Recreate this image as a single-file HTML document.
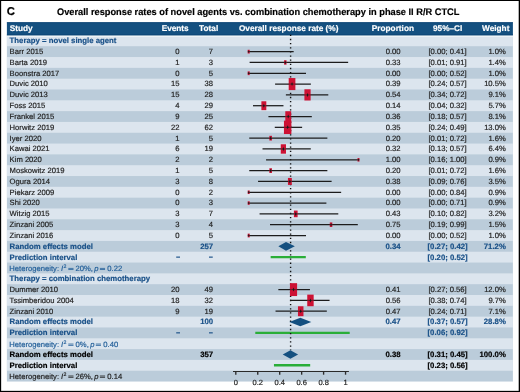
<!DOCTYPE html>
<html><head><meta charset="utf-8"><style>
html,body{margin:0;padding:0;background:#fff;}
body{width:520px;height:392px;overflow:hidden;}
svg{display:block;font-family:"Liberation Sans",sans-serif;text-rendering:geometricPrecision;will-change:transform;}
</style></head><body>
<svg width="520" height="392" viewBox="0 0 520 392">
<rect x="0" y="0" width="520" height="392" fill="#fff"/>
<rect x="6.9" y="22.3" width="506.0" height="13.099999999999998" fill="#145080"/>
<rect x="6.9" y="35.40" width="506.0" height="346.144" fill="#bbccda"/>
<rect x="6.9" y="35.400" width="506.0" height="10.817" fill="#dce5ee"/>
<rect x="6.9" y="57.034" width="506.0" height="10.817" fill="#dce5ee"/>
<rect x="6.9" y="78.668" width="506.0" height="10.817" fill="#dce5ee"/>
<rect x="6.9" y="100.302" width="506.0" height="10.817" fill="#dce5ee"/>
<rect x="6.9" y="121.936" width="506.0" height="10.817" fill="#dce5ee"/>
<rect x="6.9" y="143.570" width="506.0" height="10.817" fill="#dce5ee"/>
<rect x="6.9" y="165.204" width="506.0" height="10.817" fill="#dce5ee"/>
<rect x="6.9" y="186.838" width="506.0" height="10.817" fill="#dce5ee"/>
<rect x="6.9" y="208.472" width="506.0" height="10.817" fill="#dce5ee"/>
<rect x="6.9" y="230.106" width="506.0" height="10.817" fill="#dce5ee"/>
<rect x="6.9" y="251.740" width="506.0" height="10.817" fill="#dce5ee"/>
<rect x="6.9" y="273.374" width="506.0" height="10.817" fill="#dce5ee"/>
<rect x="6.9" y="295.008" width="506.0" height="10.817" fill="#dce5ee"/>
<rect x="6.9" y="316.642" width="506.0" height="10.817" fill="#dce5ee"/>
<rect x="6.9" y="338.276" width="506.0" height="10.817" fill="#dce5ee"/>
<rect x="6.9" y="359.910" width="506.0" height="10.817" fill="#dce5ee"/>
<rect x="6.9" y="35.4" width="506.0" height="1.6" fill="#eef3f7"/>
<rect x="6.9" y="34.4" width="506.0" height="1.0" fill="#0c4474"/>
<rect x="6.9" y="22.3" width="506.0" height="0.9" fill="#0f4677"/>
<text x="9.76" y="31.40" font-weight="bold" fill="#fff" stroke="#fff" stroke-width="0.18" font-size="8.25">Study</text>
<text x="161.67" y="31.40" font-weight="bold" fill="#fff" stroke="#fff" stroke-width="0.18" font-size="8.25">Events</text>
<text x="199.09" y="31.40" font-weight="bold" fill="#fff" stroke="#fff" stroke-width="0.18" font-size="8.25">Total</text>
<text x="238.94" y="31.40" font-weight="bold" fill="#fff" stroke="#fff" stroke-width="0.18" font-size="8.25">Overall response rate (%)</text>
<text x="371.8" y="31.40" font-weight="bold" fill="#fff" stroke="#fff" stroke-width="0.18" font-size="8.25">Proportion</text>
<text x="432.96" y="31.40" font-weight="bold" fill="#fff" stroke="#fff" stroke-width="0.18" font-size="8.25">95%–CI</text>
<text x="482.05" y="31.40" font-weight="bold" fill="#fff" stroke="#fff" stroke-width="0.18" font-size="8.25">Weight</text>
<text x="6.75" y="14.95" font-weight="bold" fill="#000" stroke="#000" stroke-width="0.18" font-size="11.3">C</text>
<text x="57.0" y="14.90" font-weight="bold" fill="#000" stroke="#000" stroke-width="0.18" font-size="9.5" textLength="402.4" lengthAdjust="spacingAndGlyphs">Overall response rates of novel agents vs. combination chemotherapy in phase II R/R CTCL</text>
<line x1="270.66" y1="257.15" x2="305.80" y2="257.15" stroke="#2aae38" stroke-width="2.4"/>
<line x1="255.29" y1="332.87" x2="349.72" y2="332.87" stroke="#2aae38" stroke-width="2.4"/>
<line x1="273.95" y1="365.32" x2="310.19" y2="365.32" stroke="#2aae38" stroke-width="2.4"/>
<line x1="290.6" y1="34.71" x2="290.6" y2="350.2" stroke="#111" stroke-width="1.4" stroke-dasharray="1.3 2.843"/>
<line x1="248.70" y1="51.63" x2="293.68" y2="51.63" stroke="#1c1c1c" stroke-width="1.25"/>
<line x1="249.62" y1="62.44" x2="348.15" y2="62.44" stroke="#1c1c1c" stroke-width="1.25"/>
<line x1="248.70" y1="73.26" x2="306.00" y2="73.26" stroke="#1c1c1c" stroke-width="1.25"/>
<line x1="275.09" y1="84.08" x2="310.86" y2="84.08" stroke="#1c1c1c" stroke-width="1.25"/>
<line x1="285.89" y1="94.89" x2="328.29" y2="94.89" stroke="#1c1c1c" stroke-width="1.25"/>
<line x1="252.97" y1="105.71" x2="283.47" y2="105.71" stroke="#1c1c1c" stroke-width="1.25"/>
<line x1="268.43" y1="116.53" x2="311.81" y2="116.53" stroke="#1c1c1c" stroke-width="1.25"/>
<line x1="274.77" y1="127.34" x2="302.13" y2="127.34" stroke="#1c1c1c" stroke-width="1.25"/>
<line x1="249.25" y1="138.16" x2="327.36" y2="138.16" stroke="#1c1c1c" stroke-width="1.25"/>
<line x1="262.51" y1="148.98" x2="310.79" y2="148.98" stroke="#1c1c1c" stroke-width="1.25"/>
<line x1="266.06" y1="159.80" x2="358.50" y2="159.80" stroke="#1c1c1c" stroke-width="1.25"/>
<line x1="249.25" y1="170.61" x2="327.36" y2="170.61" stroke="#1c1c1c" stroke-width="1.25"/>
<line x1="258.06" y1="181.43" x2="331.61" y2="181.43" stroke="#1c1c1c" stroke-width="1.25"/>
<line x1="248.70" y1="192.25" x2="341.14" y2="192.25" stroke="#1c1c1c" stroke-width="1.25"/>
<line x1="248.70" y1="203.06" x2="326.39" y2="203.06" stroke="#1c1c1c" stroke-width="1.25"/>
<line x1="259.57" y1="213.88" x2="338.29" y2="213.88" stroke="#1c1c1c" stroke-width="1.25"/>
<line x1="270.01" y1="224.70" x2="357.81" y2="224.70" stroke="#1c1c1c" stroke-width="1.25"/>
<line x1="248.70" y1="235.51" x2="306.00" y2="235.51" stroke="#1c1c1c" stroke-width="1.25"/>
<line x1="278.34" y1="289.60" x2="309.95" y2="289.60" stroke="#1c1c1c" stroke-width="1.25"/>
<line x1="290.05" y1="300.42" x2="329.55" y2="300.42" stroke="#1c1c1c" stroke-width="1.25"/>
<line x1="275.54" y1="311.23" x2="326.81" y2="311.23" stroke="#1c1c1c" stroke-width="1.25"/>
<rect x="247.67" y="49.77" width="2.06" height="3.72" fill="#cd1234"/>
<rect x="284.08" y="60.24" width="2.44" height="4.40" fill="#cd1234"/>
<rect x="247.67" y="71.40" width="2.06" height="3.72" fill="#cd1234"/>
<rect x="288.70" y="78.05" width="6.68" height="12.05" fill="#cd1234"/>
<rect x="304.41" y="89.28" width="6.21" height="11.22" fill="#cd1234"/>
<rect x="261.39" y="101.27" width="4.92" height="8.88" fill="#cd1234"/>
<rect x="285.30" y="111.23" width="5.86" height="10.59" fill="#cd1234"/>
<rect x="283.95" y="120.64" width="7.43" height="13.41" fill="#cd1234"/>
<rect x="269.36" y="135.81" width="2.61" height="4.71" fill="#cd1234"/>
<rect x="280.77" y="144.27" width="5.21" height="9.41" fill="#cd1234"/>
<rect x="357.52" y="158.03" width="1.95" height="3.53" fill="#cd1234"/>
<rect x="269.36" y="168.26" width="2.61" height="4.71" fill="#cd1234"/>
<rect x="287.95" y="177.95" width="3.85" height="6.96" fill="#cd1234"/>
<rect x="247.72" y="190.48" width="1.95" height="3.53" fill="#cd1234"/>
<rect x="247.72" y="201.30" width="1.95" height="3.53" fill="#cd1234"/>
<rect x="293.91" y="210.55" width="3.69" height="6.65" fill="#cd1234"/>
<rect x="329.79" y="222.42" width="2.52" height="4.56" fill="#cd1234"/>
<rect x="247.67" y="233.65" width="2.06" height="3.72" fill="#cd1234"/>
<rect x="289.95" y="283.16" width="7.14" height="12.89" fill="#cd1234"/>
<rect x="307.25" y="294.62" width="6.42" height="11.59" fill="#cd1234"/>
<rect x="297.97" y="306.28" width="5.49" height="9.91" fill="#cd1234"/>
<line x1="247.67" y1="51.63" x2="249.73" y2="51.63" stroke="#222" stroke-opacity="0.55" stroke-width="1.1"/>
<path d="M248.70 50.14L249.32 51.63L248.70 53.11L248.08 51.63Z" fill="#1a1a1a"/>
<line x1="284.08" y1="62.44" x2="286.52" y2="62.44" stroke="#222" stroke-opacity="0.55" stroke-width="1.1"/>
<path d="M285.30 60.68L286.03 62.44L285.30 64.20L284.57 62.44Z" fill="#1a1a1a"/>
<line x1="247.67" y1="73.26" x2="249.73" y2="73.26" stroke="#222" stroke-opacity="0.55" stroke-width="1.1"/>
<path d="M248.70 71.77L249.32 73.26L248.70 74.75L248.08 73.26Z" fill="#1a1a1a"/>
<line x1="288.70" y1="84.08" x2="295.38" y2="84.08" stroke="#222" stroke-opacity="0.55" stroke-width="1.1"/>
<path d="M292.04 82.08L292.89 84.08L292.04 86.08L291.19 84.08Z" fill="#1a1a1a"/>
<line x1="304.41" y1="94.89" x2="310.63" y2="94.89" stroke="#222" stroke-opacity="0.55" stroke-width="1.1"/>
<path d="M307.52 92.89L308.37 94.89L307.52 96.89L306.67 94.89Z" fill="#1a1a1a"/>
<line x1="261.39" y1="105.71" x2="266.30" y2="105.71" stroke="#222" stroke-opacity="0.55" stroke-width="1.1"/>
<path d="M263.84 103.71L264.69 105.71L263.84 107.71L262.99 105.71Z" fill="#1a1a1a"/>
<line x1="285.30" y1="116.53" x2="291.16" y2="116.53" stroke="#222" stroke-opacity="0.55" stroke-width="1.1"/>
<path d="M288.23 114.53L289.08 116.53L288.23 118.53L287.38 116.53Z" fill="#1a1a1a"/>
<line x1="283.95" y1="127.34" x2="291.38" y2="127.34" stroke="#222" stroke-opacity="0.55" stroke-width="1.1"/>
<path d="M287.66 125.34L288.51 127.34L287.66 129.34L286.81 127.34Z" fill="#1a1a1a"/>
<line x1="269.36" y1="138.16" x2="271.96" y2="138.16" stroke="#222" stroke-opacity="0.55" stroke-width="1.1"/>
<path d="M270.66 136.28L271.44 138.16L270.66 140.04L269.88 138.16Z" fill="#1a1a1a"/>
<line x1="280.77" y1="148.98" x2="285.98" y2="148.98" stroke="#222" stroke-opacity="0.55" stroke-width="1.1"/>
<path d="M283.37 146.98L284.22 148.98L283.37 150.98L282.52 148.98Z" fill="#1a1a1a"/>
<line x1="357.52" y1="159.80" x2="359.48" y2="159.80" stroke="#222" stroke-opacity="0.55" stroke-width="1.1"/>
<path d="M358.50 158.38L359.09 159.80L358.50 161.21L357.91 159.80Z" fill="#1a1a1a"/>
<line x1="269.36" y1="170.61" x2="271.96" y2="170.61" stroke="#222" stroke-opacity="0.55" stroke-width="1.1"/>
<path d="M270.66 168.73L271.44 170.61L270.66 172.49L269.88 170.61Z" fill="#1a1a1a"/>
<line x1="287.95" y1="181.43" x2="291.80" y2="181.43" stroke="#222" stroke-opacity="0.55" stroke-width="1.1"/>
<path d="M289.88 179.43L290.73 181.43L289.88 183.43L289.02 181.43Z" fill="#1a1a1a"/>
<line x1="247.72" y1="192.25" x2="249.68" y2="192.25" stroke="#222" stroke-opacity="0.55" stroke-width="1.1"/>
<path d="M248.70 190.83L249.29 192.25L248.70 193.66L248.11 192.25Z" fill="#1a1a1a"/>
<line x1="247.72" y1="203.06" x2="249.68" y2="203.06" stroke="#222" stroke-opacity="0.55" stroke-width="1.1"/>
<path d="M248.70 201.65L249.29 203.06L248.70 204.48L248.11 203.06Z" fill="#1a1a1a"/>
<line x1="293.91" y1="213.88" x2="297.60" y2="213.88" stroke="#222" stroke-opacity="0.55" stroke-width="1.1"/>
<path d="M295.76 211.88L296.61 213.88L295.76 215.88L294.91 213.88Z" fill="#1a1a1a"/>
<line x1="329.79" y1="224.70" x2="332.31" y2="224.70" stroke="#222" stroke-opacity="0.55" stroke-width="1.1"/>
<path d="M331.05 222.88L331.81 224.70L331.05 226.52L330.29 224.70Z" fill="#1a1a1a"/>
<line x1="247.67" y1="235.51" x2="249.73" y2="235.51" stroke="#222" stroke-opacity="0.55" stroke-width="1.1"/>
<path d="M248.70 234.03L249.32 235.51L248.70 237.00L248.08 235.51Z" fill="#1a1a1a"/>
<path d="M278.35 246.33L286.03 242.03L294.82 246.33L286.03 250.63Z" fill="#145080"/>
<line x1="289.95" y1="289.60" x2="297.08" y2="289.60" stroke="#222" stroke-opacity="0.55" stroke-width="1.1"/>
<path d="M293.52 287.60L294.37 289.60L293.52 291.60L292.67 289.60Z" fill="#1a1a1a"/>
<line x1="307.25" y1="300.42" x2="313.67" y2="300.42" stroke="#222" stroke-opacity="0.55" stroke-width="1.1"/>
<path d="M310.46 298.42L311.31 300.42L310.46 302.42L309.61 300.42Z" fill="#1a1a1a"/>
<line x1="297.97" y1="311.23" x2="303.46" y2="311.23" stroke="#222" stroke-opacity="0.55" stroke-width="1.1"/>
<path d="M300.71 309.23L301.56 311.23L300.71 313.23L299.86 311.23Z" fill="#1a1a1a"/>
<path d="M289.33 322.05L300.31 317.75L311.29 322.05L300.31 326.35Z" fill="#145080"/>
<path d="M282.74 354.50L290.42 350.20L298.11 354.50L290.42 358.80Z" fill="#145080"/>
<line x1="233" y1="371.5" x2="348.9" y2="371.5" stroke="#2a2a2a" stroke-width="1.2"/>
<line x1="235.80" y1="371.5" x2="235.80" y2="374.7" stroke="#2a2a2a" stroke-width="1.35"/>
<text x="235.8" y="385.40" text-anchor="middle" fill="#222" stroke="#222" stroke-width="0.18" font-size="7.5">0</text>
<line x1="257.75" y1="371.5" x2="257.75" y2="374.7" stroke="#2a2a2a" stroke-width="1.35"/>
<text x="257.75" y="385.40" text-anchor="middle" fill="#222" stroke="#222" stroke-width="0.18" font-size="7.5">0.2</text>
<line x1="279.70" y1="371.5" x2="279.70" y2="374.7" stroke="#2a2a2a" stroke-width="1.35"/>
<text x="279.7" y="385.40" text-anchor="middle" fill="#222" stroke="#222" stroke-width="0.18" font-size="7.5">0.4</text>
<line x1="301.65" y1="371.5" x2="301.65" y2="374.7" stroke="#2a2a2a" stroke-width="1.35"/>
<text x="301.65" y="385.40" text-anchor="middle" fill="#222" stroke="#222" stroke-width="0.18" font-size="7.5">0.6</text>
<line x1="323.60" y1="371.5" x2="323.60" y2="374.7" stroke="#2a2a2a" stroke-width="1.35"/>
<text x="323.6" y="385.40" text-anchor="middle" fill="#222" stroke="#222" stroke-width="0.18" font-size="7.5">0.8</text>
<line x1="345.55" y1="371.5" x2="345.55" y2="374.7" stroke="#2a2a2a" stroke-width="1.35"/>
<text x="345.55" y="385.40" text-anchor="middle" fill="#222" stroke="#222" stroke-width="0.18" font-size="7.5">1</text>
<text x="9.6" y="43.21" font-weight="bold" fill="#1a5188" stroke="#1a5188" stroke-width="0.18" font-size="7.78">Therapy = novel single agent</text>
<text x="9.6" y="54.03" fill="#222" stroke="#222" stroke-width="0.18" font-size="7.65">Barr 2015</text>
<text x="179.4" y="54.03" text-anchor="end" fill="#222" stroke="#222" stroke-width="0.18" font-size="7.65">0</text>
<text x="213.1" y="54.03" text-anchor="end" fill="#222" stroke="#222" stroke-width="0.18" font-size="7.65">7</text>
<text x="393.1" y="54.03" text-anchor="middle" fill="#222" stroke="#222" stroke-width="0.18" font-size="7.65">0.00</text>
<text x="447.6" y="54.03" text-anchor="middle" fill="#222" stroke="#222" stroke-width="0.18" font-size="7.65">[0.00; 0.41]</text>
<text x="505.8" y="54.03" text-anchor="end" fill="#222" stroke="#222" stroke-width="0.18" font-size="7.65">1.0%</text>
<text x="9.6" y="64.84" fill="#222" stroke="#222" stroke-width="0.18" font-size="7.65">Barta 2019</text>
<text x="179.4" y="64.84" text-anchor="end" fill="#222" stroke="#222" stroke-width="0.18" font-size="7.65">1</text>
<text x="213.1" y="64.84" text-anchor="end" fill="#222" stroke="#222" stroke-width="0.18" font-size="7.65">3</text>
<text x="393.1" y="64.84" text-anchor="middle" fill="#222" stroke="#222" stroke-width="0.18" font-size="7.65">0.33</text>
<text x="447.6" y="64.84" text-anchor="middle" fill="#222" stroke="#222" stroke-width="0.18" font-size="7.65">[0.01; 0.91]</text>
<text x="505.8" y="64.84" text-anchor="end" fill="#222" stroke="#222" stroke-width="0.18" font-size="7.65">1.4%</text>
<text x="9.6" y="75.66" fill="#222" stroke="#222" stroke-width="0.18" font-size="7.65">Boonstra 2017</text>
<text x="179.4" y="75.66" text-anchor="end" fill="#222" stroke="#222" stroke-width="0.18" font-size="7.65">0</text>
<text x="213.1" y="75.66" text-anchor="end" fill="#222" stroke="#222" stroke-width="0.18" font-size="7.65">5</text>
<text x="393.1" y="75.66" text-anchor="middle" fill="#222" stroke="#222" stroke-width="0.18" font-size="7.65">0.00</text>
<text x="447.6" y="75.66" text-anchor="middle" fill="#222" stroke="#222" stroke-width="0.18" font-size="7.65">[0.00; 0.52]</text>
<text x="505.8" y="75.66" text-anchor="end" fill="#222" stroke="#222" stroke-width="0.18" font-size="7.65">1.0%</text>
<text x="9.6" y="86.48" fill="#222" stroke="#222" stroke-width="0.18" font-size="7.65">Duvic 2010</text>
<text x="179.4" y="86.48" text-anchor="end" fill="#222" stroke="#222" stroke-width="0.18" font-size="7.65">15</text>
<text x="213.1" y="86.48" text-anchor="end" fill="#222" stroke="#222" stroke-width="0.18" font-size="7.65">38</text>
<text x="393.1" y="86.48" text-anchor="middle" fill="#222" stroke="#222" stroke-width="0.18" font-size="7.65">0.39</text>
<text x="447.6" y="86.48" text-anchor="middle" fill="#222" stroke="#222" stroke-width="0.18" font-size="7.65">[0.24; 0.57]</text>
<text x="505.8" y="86.48" text-anchor="end" fill="#222" stroke="#222" stroke-width="0.18" font-size="7.65">10.5%</text>
<text x="9.6" y="97.29" fill="#222" stroke="#222" stroke-width="0.18" font-size="7.65">Duvic 2013</text>
<text x="179.4" y="97.29" text-anchor="end" fill="#222" stroke="#222" stroke-width="0.18" font-size="7.65">15</text>
<text x="213.1" y="97.29" text-anchor="end" fill="#222" stroke="#222" stroke-width="0.18" font-size="7.65">28</text>
<text x="393.1" y="97.29" text-anchor="middle" fill="#222" stroke="#222" stroke-width="0.18" font-size="7.65">0.54</text>
<text x="447.6" y="97.29" text-anchor="middle" fill="#222" stroke="#222" stroke-width="0.18" font-size="7.65">[0.34; 0.72]</text>
<text x="505.8" y="97.29" text-anchor="end" fill="#222" stroke="#222" stroke-width="0.18" font-size="7.65">9.1%</text>
<text x="9.6" y="108.11" fill="#222" stroke="#222" stroke-width="0.18" font-size="7.65">Foss 2015</text>
<text x="179.4" y="108.11" text-anchor="end" fill="#222" stroke="#222" stroke-width="0.18" font-size="7.65">4</text>
<text x="213.1" y="108.11" text-anchor="end" fill="#222" stroke="#222" stroke-width="0.18" font-size="7.65">29</text>
<text x="393.1" y="108.11" text-anchor="middle" fill="#222" stroke="#222" stroke-width="0.18" font-size="7.65">0.14</text>
<text x="447.6" y="108.11" text-anchor="middle" fill="#222" stroke="#222" stroke-width="0.18" font-size="7.65">[0.04; 0.32]</text>
<text x="505.8" y="108.11" text-anchor="end" fill="#222" stroke="#222" stroke-width="0.18" font-size="7.65">5.7%</text>
<text x="9.6" y="118.93" fill="#222" stroke="#222" stroke-width="0.18" font-size="7.65">Frankel 2015</text>
<text x="179.4" y="118.93" text-anchor="end" fill="#222" stroke="#222" stroke-width="0.18" font-size="7.65">9</text>
<text x="213.1" y="118.93" text-anchor="end" fill="#222" stroke="#222" stroke-width="0.18" font-size="7.65">25</text>
<text x="393.1" y="118.93" text-anchor="middle" fill="#222" stroke="#222" stroke-width="0.18" font-size="7.65">0.36</text>
<text x="447.6" y="118.93" text-anchor="middle" fill="#222" stroke="#222" stroke-width="0.18" font-size="7.65">[0.18; 0.57]</text>
<text x="505.8" y="118.93" text-anchor="end" fill="#222" stroke="#222" stroke-width="0.18" font-size="7.65">8.1%</text>
<text x="9.6" y="129.74" fill="#222" stroke="#222" stroke-width="0.18" font-size="7.65">Horwitz 2019</text>
<text x="179.4" y="129.74" text-anchor="end" fill="#222" stroke="#222" stroke-width="0.18" font-size="7.65">22</text>
<text x="213.1" y="129.74" text-anchor="end" fill="#222" stroke="#222" stroke-width="0.18" font-size="7.65">62</text>
<text x="393.1" y="129.74" text-anchor="middle" fill="#222" stroke="#222" stroke-width="0.18" font-size="7.65">0.35</text>
<text x="447.6" y="129.74" text-anchor="middle" fill="#222" stroke="#222" stroke-width="0.18" font-size="7.65">[0.24; 0.49]</text>
<text x="505.8" y="129.74" text-anchor="end" fill="#222" stroke="#222" stroke-width="0.18" font-size="7.65">13.0%</text>
<text x="9.6" y="140.56" fill="#222" stroke="#222" stroke-width="0.18" font-size="7.65">Iyer 2020</text>
<text x="179.4" y="140.56" text-anchor="end" fill="#222" stroke="#222" stroke-width="0.18" font-size="7.65">1</text>
<text x="213.1" y="140.56" text-anchor="end" fill="#222" stroke="#222" stroke-width="0.18" font-size="7.65">5</text>
<text x="393.1" y="140.56" text-anchor="middle" fill="#222" stroke="#222" stroke-width="0.18" font-size="7.65">0.20</text>
<text x="447.6" y="140.56" text-anchor="middle" fill="#222" stroke="#222" stroke-width="0.18" font-size="7.65">[0.01; 0.72]</text>
<text x="505.8" y="140.56" text-anchor="end" fill="#222" stroke="#222" stroke-width="0.18" font-size="7.65">1.6%</text>
<text x="9.6" y="151.38" fill="#222" stroke="#222" stroke-width="0.18" font-size="7.65">Kawai 2021</text>
<text x="179.4" y="151.38" text-anchor="end" fill="#222" stroke="#222" stroke-width="0.18" font-size="7.65">6</text>
<text x="213.1" y="151.38" text-anchor="end" fill="#222" stroke="#222" stroke-width="0.18" font-size="7.65">19</text>
<text x="393.1" y="151.38" text-anchor="middle" fill="#222" stroke="#222" stroke-width="0.18" font-size="7.65">0.32</text>
<text x="447.6" y="151.38" text-anchor="middle" fill="#222" stroke="#222" stroke-width="0.18" font-size="7.65">[0.13; 0.57]</text>
<text x="505.8" y="151.38" text-anchor="end" fill="#222" stroke="#222" stroke-width="0.18" font-size="7.65">6.4%</text>
<text x="9.6" y="162.20" fill="#222" stroke="#222" stroke-width="0.18" font-size="7.65">Kim 2020</text>
<text x="179.4" y="162.20" text-anchor="end" fill="#222" stroke="#222" stroke-width="0.18" font-size="7.65">2</text>
<text x="213.1" y="162.20" text-anchor="end" fill="#222" stroke="#222" stroke-width="0.18" font-size="7.65">2</text>
<text x="393.1" y="162.20" text-anchor="middle" fill="#222" stroke="#222" stroke-width="0.18" font-size="7.65">1.00</text>
<text x="447.6" y="162.20" text-anchor="middle" fill="#222" stroke="#222" stroke-width="0.18" font-size="7.65">[0.16; 1.00]</text>
<text x="505.8" y="162.20" text-anchor="end" fill="#222" stroke="#222" stroke-width="0.18" font-size="7.65">0.9%</text>
<text x="9.6" y="173.01" fill="#222" stroke="#222" stroke-width="0.18" font-size="7.65">Moskowitz 2019</text>
<text x="179.4" y="173.01" text-anchor="end" fill="#222" stroke="#222" stroke-width="0.18" font-size="7.65">1</text>
<text x="213.1" y="173.01" text-anchor="end" fill="#222" stroke="#222" stroke-width="0.18" font-size="7.65">5</text>
<text x="393.1" y="173.01" text-anchor="middle" fill="#222" stroke="#222" stroke-width="0.18" font-size="7.65">0.20</text>
<text x="447.6" y="173.01" text-anchor="middle" fill="#222" stroke="#222" stroke-width="0.18" font-size="7.65">[0.01; 0.72]</text>
<text x="505.8" y="173.01" text-anchor="end" fill="#222" stroke="#222" stroke-width="0.18" font-size="7.65">1.6%</text>
<text x="9.6" y="183.83" fill="#222" stroke="#222" stroke-width="0.18" font-size="7.65">Ogura 2014</text>
<text x="179.4" y="183.83" text-anchor="end" fill="#222" stroke="#222" stroke-width="0.18" font-size="7.65">3</text>
<text x="213.1" y="183.83" text-anchor="end" fill="#222" stroke="#222" stroke-width="0.18" font-size="7.65">8</text>
<text x="393.1" y="183.83" text-anchor="middle" fill="#222" stroke="#222" stroke-width="0.18" font-size="7.65">0.38</text>
<text x="447.6" y="183.83" text-anchor="middle" fill="#222" stroke="#222" stroke-width="0.18" font-size="7.65">[0.09; 0.76]</text>
<text x="505.8" y="183.83" text-anchor="end" fill="#222" stroke="#222" stroke-width="0.18" font-size="7.65">3.5%</text>
<text x="9.6" y="194.65" fill="#222" stroke="#222" stroke-width="0.18" font-size="7.65">Piekarz 2009</text>
<text x="179.4" y="194.65" text-anchor="end" fill="#222" stroke="#222" stroke-width="0.18" font-size="7.65">0</text>
<text x="213.1" y="194.65" text-anchor="end" fill="#222" stroke="#222" stroke-width="0.18" font-size="7.65">2</text>
<text x="393.1" y="194.65" text-anchor="middle" fill="#222" stroke="#222" stroke-width="0.18" font-size="7.65">0.00</text>
<text x="447.6" y="194.65" text-anchor="middle" fill="#222" stroke="#222" stroke-width="0.18" font-size="7.65">[0.00; 0.84]</text>
<text x="505.8" y="194.65" text-anchor="end" fill="#222" stroke="#222" stroke-width="0.18" font-size="7.65">0.9%</text>
<text x="9.6" y="205.46" fill="#222" stroke="#222" stroke-width="0.18" font-size="7.65">Shi 2020</text>
<text x="179.4" y="205.46" text-anchor="end" fill="#222" stroke="#222" stroke-width="0.18" font-size="7.65">0</text>
<text x="213.1" y="205.46" text-anchor="end" fill="#222" stroke="#222" stroke-width="0.18" font-size="7.65">3</text>
<text x="393.1" y="205.46" text-anchor="middle" fill="#222" stroke="#222" stroke-width="0.18" font-size="7.65">0.00</text>
<text x="447.6" y="205.46" text-anchor="middle" fill="#222" stroke="#222" stroke-width="0.18" font-size="7.65">[0.00; 0.71]</text>
<text x="505.8" y="205.46" text-anchor="end" fill="#222" stroke="#222" stroke-width="0.18" font-size="7.65">0.9%</text>
<text x="9.6" y="216.28" fill="#222" stroke="#222" stroke-width="0.18" font-size="7.65">Witzig 2015</text>
<text x="179.4" y="216.28" text-anchor="end" fill="#222" stroke="#222" stroke-width="0.18" font-size="7.65">3</text>
<text x="213.1" y="216.28" text-anchor="end" fill="#222" stroke="#222" stroke-width="0.18" font-size="7.65">7</text>
<text x="393.1" y="216.28" text-anchor="middle" fill="#222" stroke="#222" stroke-width="0.18" font-size="7.65">0.43</text>
<text x="447.6" y="216.28" text-anchor="middle" fill="#222" stroke="#222" stroke-width="0.18" font-size="7.65">[0.10; 0.82]</text>
<text x="505.8" y="216.28" text-anchor="end" fill="#222" stroke="#222" stroke-width="0.18" font-size="7.65">3.2%</text>
<text x="9.6" y="227.10" fill="#222" stroke="#222" stroke-width="0.18" font-size="7.65">Zinzani 2005</text>
<text x="179.4" y="227.10" text-anchor="end" fill="#222" stroke="#222" stroke-width="0.18" font-size="7.65">3</text>
<text x="213.1" y="227.10" text-anchor="end" fill="#222" stroke="#222" stroke-width="0.18" font-size="7.65">4</text>
<text x="393.1" y="227.10" text-anchor="middle" fill="#222" stroke="#222" stroke-width="0.18" font-size="7.65">0.75</text>
<text x="447.6" y="227.10" text-anchor="middle" fill="#222" stroke="#222" stroke-width="0.18" font-size="7.65">[0.19; 0.99]</text>
<text x="505.8" y="227.10" text-anchor="end" fill="#222" stroke="#222" stroke-width="0.18" font-size="7.65">1.5%</text>
<text x="9.6" y="237.91" fill="#222" stroke="#222" stroke-width="0.18" font-size="7.65">Zinzani 2016</text>
<text x="179.4" y="237.91" text-anchor="end" fill="#222" stroke="#222" stroke-width="0.18" font-size="7.65">0</text>
<text x="213.1" y="237.91" text-anchor="end" fill="#222" stroke="#222" stroke-width="0.18" font-size="7.65">5</text>
<text x="393.1" y="237.91" text-anchor="middle" fill="#222" stroke="#222" stroke-width="0.18" font-size="7.65">0.00</text>
<text x="447.6" y="237.91" text-anchor="middle" fill="#222" stroke="#222" stroke-width="0.18" font-size="7.65">[0.00; 0.52]</text>
<text x="505.8" y="237.91" text-anchor="end" fill="#222" stroke="#222" stroke-width="0.18" font-size="7.65">1.0%</text>
<text x="9.6" y="248.73" font-weight="bold" fill="#1a5188" stroke="#1a5188" stroke-width="0.18" font-size="7.78">Random effects model</text>
<text x="213.1" y="248.73" text-anchor="end" font-weight="bold" fill="#1a5188" stroke="#1a5188" stroke-width="0.18" font-size="7.78">257</text>
<text x="393.1" y="248.73" text-anchor="middle" font-weight="bold" fill="#1a5188" stroke="#1a5188" stroke-width="0.18" font-size="7.78">0.34</text>
<text x="447.6" y="248.73" text-anchor="middle" font-weight="bold" fill="#1a5188" stroke="#1a5188" stroke-width="0.18" font-size="7.78">[0.27; 0.42]</text>
<text x="505.8" y="248.73" text-anchor="end" font-weight="bold" fill="#1a5188" stroke="#1a5188" stroke-width="0.18" font-size="7.78">71.2%</text>
<text x="9.6" y="259.55" font-weight="bold" fill="#1a5188" stroke="#1a5188" stroke-width="0.18" font-size="7.78">Prediction interval</text>
<rect x="176.2" y="256.55" width="3.8" height="1.15" fill="#1a5188"/>
<rect x="209.0" y="256.55" width="3.75" height="1.15" fill="#1a5188"/>
<text x="447.6" y="259.55" text-anchor="middle" font-weight="bold" fill="#1a5188" stroke="#1a5188" stroke-width="0.18" font-size="7.78">[0.20; 0.52]</text>
<text x="9.32" y="270.87" fill="#24609a" stroke="#24609a" stroke-width="0.18" font-size="7.65">Heterogeneity:</text>
<text x="61.00" y="270.87" fill="#24609a" stroke="#24609a" stroke-width="0.18" font-size="7.65" font-style="italic">I</text>
<text x="63.44" y="268.17" fill="#24609a" stroke="#24609a" stroke-width="0.18" font-size="5.2">2</text>
<text x="75.47" y="270.87" fill="#24609a" stroke="#24609a" stroke-width="0.18" font-size="7.65">20%</text>
<text x="90.73" y="270.87" fill="#24609a" stroke="#24609a" stroke-width="0.18" font-size="7.65">,</text>
<text x="94.27" y="270.87" fill="#24609a" stroke="#24609a" stroke-width="0.18" font-size="7.65" font-style="italic">p</text>
<text x="107.37" y="270.87" fill="#24609a" stroke="#24609a" stroke-width="0.18" font-size="7.65">0.22</text>
<rect x="68.30" y="267.92" width="5.2" height="0.8" fill="#24609a"/>
<rect x="68.30" y="269.22" width="5.2" height="0.8" fill="#24609a"/>
<rect x="99.87" y="267.92" width="5.2" height="0.8" fill="#24609a"/>
<rect x="99.87" y="269.22" width="5.2" height="0.8" fill="#24609a"/>
<text x="9.6" y="281.18" font-weight="bold" fill="#1a5188" stroke="#1a5188" stroke-width="0.18" font-size="7.78">Therapy = combination chemotherapy</text>
<text x="9.6" y="292.00" fill="#222" stroke="#222" stroke-width="0.18" font-size="7.65">Dummer 2010</text>
<text x="179.4" y="292.00" text-anchor="end" fill="#222" stroke="#222" stroke-width="0.18" font-size="7.65">20</text>
<text x="213.1" y="292.00" text-anchor="end" fill="#222" stroke="#222" stroke-width="0.18" font-size="7.65">49</text>
<text x="393.1" y="292.00" text-anchor="middle" fill="#222" stroke="#222" stroke-width="0.18" font-size="7.65">0.41</text>
<text x="447.6" y="292.00" text-anchor="middle" fill="#222" stroke="#222" stroke-width="0.18" font-size="7.65">[0.27; 0.56]</text>
<text x="505.8" y="292.00" text-anchor="end" fill="#222" stroke="#222" stroke-width="0.18" font-size="7.65">12.0%</text>
<text x="9.6" y="302.82" fill="#222" stroke="#222" stroke-width="0.18" font-size="7.65">Tssimberidou 2004</text>
<text x="179.4" y="302.82" text-anchor="end" fill="#222" stroke="#222" stroke-width="0.18" font-size="7.65">18</text>
<text x="213.1" y="302.82" text-anchor="end" fill="#222" stroke="#222" stroke-width="0.18" font-size="7.65">32</text>
<text x="393.1" y="302.82" text-anchor="middle" fill="#222" stroke="#222" stroke-width="0.18" font-size="7.65">0.56</text>
<text x="447.6" y="302.82" text-anchor="middle" fill="#222" stroke="#222" stroke-width="0.18" font-size="7.65">[0.38; 0.74]</text>
<text x="505.8" y="302.82" text-anchor="end" fill="#222" stroke="#222" stroke-width="0.18" font-size="7.65">9.7%</text>
<text x="9.6" y="313.63" fill="#222" stroke="#222" stroke-width="0.18" font-size="7.65">Zinzani 2010</text>
<text x="179.4" y="313.63" text-anchor="end" fill="#222" stroke="#222" stroke-width="0.18" font-size="7.65">9</text>
<text x="213.1" y="313.63" text-anchor="end" fill="#222" stroke="#222" stroke-width="0.18" font-size="7.65">19</text>
<text x="393.1" y="313.63" text-anchor="middle" fill="#222" stroke="#222" stroke-width="0.18" font-size="7.65">0.47</text>
<text x="447.6" y="313.63" text-anchor="middle" fill="#222" stroke="#222" stroke-width="0.18" font-size="7.65">[0.24; 0.71]</text>
<text x="505.8" y="313.63" text-anchor="end" fill="#222" stroke="#222" stroke-width="0.18" font-size="7.65">7.1%</text>
<text x="9.6" y="324.45" font-weight="bold" fill="#1a5188" stroke="#1a5188" stroke-width="0.18" font-size="7.78">Random effects model</text>
<text x="213.1" y="324.45" text-anchor="end" font-weight="bold" fill="#1a5188" stroke="#1a5188" stroke-width="0.18" font-size="7.78">100</text>
<text x="393.1" y="324.45" text-anchor="middle" font-weight="bold" fill="#1a5188" stroke="#1a5188" stroke-width="0.18" font-size="7.78">0.47</text>
<text x="447.6" y="324.45" text-anchor="middle" font-weight="bold" fill="#1a5188" stroke="#1a5188" stroke-width="0.18" font-size="7.78">[0.37; 0.57]</text>
<text x="505.8" y="324.45" text-anchor="end" font-weight="bold" fill="#1a5188" stroke="#1a5188" stroke-width="0.18" font-size="7.78">28.8%</text>
<text x="9.6" y="335.27" font-weight="bold" fill="#1a5188" stroke="#1a5188" stroke-width="0.18" font-size="7.78">Prediction interval</text>
<rect x="176.2" y="332.27" width="3.8" height="1.15" fill="#1a5188"/>
<rect x="209.0" y="332.27" width="3.75" height="1.15" fill="#1a5188"/>
<text x="447.6" y="335.27" text-anchor="middle" font-weight="bold" fill="#1a5188" stroke="#1a5188" stroke-width="0.18" font-size="7.78">[0.06; 0.92]</text>
<text x="9.32" y="346.58" fill="#24609a" stroke="#24609a" stroke-width="0.18" font-size="7.65">Heterogeneity:</text>
<text x="61.00" y="346.58" fill="#24609a" stroke="#24609a" stroke-width="0.18" font-size="7.65" font-style="italic">I</text>
<text x="63.44" y="343.88" fill="#24609a" stroke="#24609a" stroke-width="0.18" font-size="5.2">2</text>
<text x="75.55" y="346.58" fill="#24609a" stroke="#24609a" stroke-width="0.18" font-size="7.65">0%</text>
<text x="86.65" y="346.58" fill="#24609a" stroke="#24609a" stroke-width="0.18" font-size="7.65">,</text>
<text x="90.19" y="346.58" fill="#24609a" stroke="#24609a" stroke-width="0.18" font-size="7.65" font-style="italic">p</text>
<text x="103.29" y="346.58" fill="#24609a" stroke="#24609a" stroke-width="0.18" font-size="7.65">0.40</text>
<rect x="68.30" y="343.63" width="5.2" height="0.8" fill="#24609a"/>
<rect x="68.30" y="344.93" width="5.2" height="0.8" fill="#24609a"/>
<rect x="95.79" y="343.63" width="5.2" height="0.8" fill="#24609a"/>
<rect x="95.79" y="344.93" width="5.2" height="0.8" fill="#24609a"/>
<text x="9.6" y="356.90" font-weight="bold" fill="#000" stroke="#000" stroke-width="0.18" font-size="7.78">Random effects model</text>
<text x="213.1" y="356.90" text-anchor="end" font-weight="bold" fill="#000" stroke="#000" stroke-width="0.18" font-size="7.78">357</text>
<text x="393.1" y="356.90" text-anchor="middle" font-weight="bold" fill="#000" stroke="#000" stroke-width="0.18" font-size="7.78">0.38</text>
<text x="447.6" y="356.90" text-anchor="middle" font-weight="bold" fill="#000" stroke="#000" stroke-width="0.18" font-size="7.78">[0.31; 0.45]</text>
<text x="505.8" y="356.90" text-anchor="end" font-weight="bold" fill="#000" stroke="#000" stroke-width="0.18" font-size="7.78">100.0%</text>
<text x="9.6" y="367.72" font-weight="bold" fill="#000" stroke="#000" stroke-width="0.18" font-size="7.78">Prediction interval</text>
<text x="447.6" y="367.72" text-anchor="middle" font-weight="bold" fill="#000" stroke="#000" stroke-width="0.18" font-size="7.78">[0.23; 0.56]</text>
<text x="9.32" y="378.54" fill="#222" stroke="#222" stroke-width="0.18" font-size="7.65">Heterogeneity:</text>
<text x="61.00" y="378.54" fill="#222" stroke="#222" stroke-width="0.18" font-size="7.65" font-style="italic">I</text>
<text x="63.44" y="375.84" fill="#222" stroke="#222" stroke-width="0.18" font-size="5.2">2</text>
<text x="75.47" y="378.54" fill="#222" stroke="#222" stroke-width="0.18" font-size="7.65">26%</text>
<text x="90.73" y="378.54" fill="#222" stroke="#222" stroke-width="0.18" font-size="7.65">,</text>
<text x="94.27" y="378.54" fill="#222" stroke="#222" stroke-width="0.18" font-size="7.65" font-style="italic">p</text>
<text x="107.37" y="378.54" fill="#222" stroke="#222" stroke-width="0.18" font-size="7.65">0.14</text>
<rect x="68.30" y="375.59" width="5.2" height="0.8" fill="#222"/>
<rect x="68.30" y="376.89" width="5.2" height="0.8" fill="#222"/>
<rect x="99.87" y="375.59" width="5.2" height="0.8" fill="#222"/>
<rect x="99.87" y="376.89" width="5.2" height="0.8" fill="#222"/>
<rect x="0" y="0" width="1.15" height="392" fill="#000"/><rect x="0" y="0" width="520" height="1.0" fill="#000"/><rect x="518.7" y="0" width="1.3" height="392" fill="#000"/><rect x="0" y="390.85" width="520" height="1.15" fill="#000"/>
</svg>
</body></html>
